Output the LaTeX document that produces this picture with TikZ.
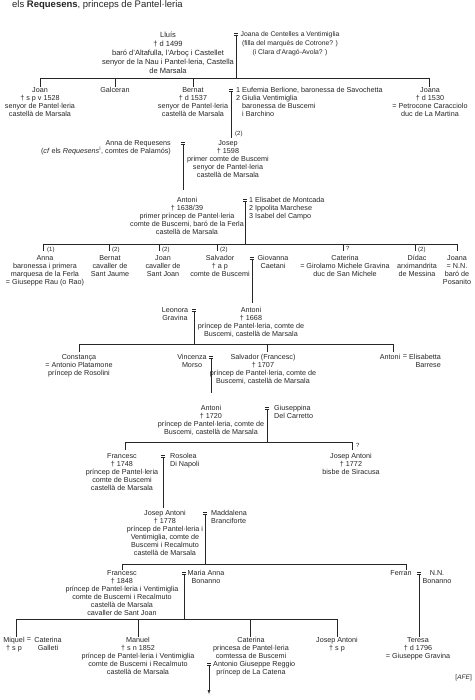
\documentclass[tikz,border=0pt]{standalone}
\usepackage{fontspec}
\setmainfont{Liberation Sans}
\usetikzlibrary{arrows.meta}
\definecolor{ink}{gray}{0.15}
\tikzset{
  lbl/.style={font=\fontsize{7.2}{8}\selectfont, text=ink, align=center, inner sep=0pt, anchor=north, yshift=2.7pt},
  lbll/.style={lbl, align=left, anchor=north west},
  lblr/.style={lbl, align=right, anchor=north east},
  tag/.style={lbl, anchor=north west, font=\fontsize{6}{7}\selectfont},
  ln/.style={line width=0.5pt, draw=ink},
}
\newcommand\marr[3]{%
  \coordinate (#1) at (#2,#3+1);
  \draw[ln] ([shift={(-2.2,-2)}]#1) -- ([shift={(2.2,-2)}]#1)
            ([shift={(-2.2,0)}]#1) -- ([shift={(2.2,0)}]#1);}
\begin{document}
\begin{tikzpicture}[x=1pt,y=-1pt]
\useasboundingbox[fill=white] (0,0) rectangle (474,700);

\node[lbl, anchor=west, yshift=0pt, font=\fontsize{9.5}{11}\selectfont] (title) at (12,8)
  {els \textbf{Requesens}, princeps de Pantel·leria};

% ---- generation 1
\node[lbl, font=\fontsize{7.5}{9}\selectfont] (lluis) at (168,34)
  {Lluís\\† d 1499\\baró d'Altafulla, l'Arboç i Castellet\\senyor de la Nau i Pantel·leria, Castella\\de Marsala};
\marr{m1}{236}{34}
\node[lbl, font=\fontsize{6.8}{9}\selectfont] (joanaC) at (290,34)
  {Joana de Centelles a Ventimiglia\\(filla del marquès de Cotrone? )\\(i Clara d'Aragó-Avola? )};
\coordinate (b1) at (236,78);
\coordinate (t11) at (40,78);
\coordinate (t12) at (115,78);
\coordinate (t13) at (193,78);
\coordinate (t14) at (429,78);
\draw[ln] (m1) -- (b1);
\draw[ln] (t11) -- (t14);

% ---- generation 2
\node[lbl] (joan1) at (40,90) {Joan\\† s p v 1528\\senyor de Pantel·leria\\castellà de Marsala};
\node[lbl] (galceran) at (115,90) {Galceran};
\node[lbl] (bernat1) at (193,90) {Bernat\\† d 1537\\senyor de Pantel·leria\\castellà de Marsala};
\node[lbl] (joana1) at (430,90) {Joana\\† d 1530\\= Petrocone Caracciolo\\duc de La Martina};
\draw[ln] (t11) -- (t11 |- joan1.north);
\draw[ln] (t12) -- (t12 |- galceran.north);
\draw[ln] (t13) -- (t13 |- bernat1.north);
\draw[ln] (t14) -- (t14 |- joana1.north);
\marr{m2}{231}{90}
\node[lbll] (eufemia) at (236,90)
  {1 Eufemia Berlione, baronessa de Savochetta\\2 Giulia Ventimiglia\\\phantom{2 }baronessa de Buscemi\\\phantom{2 }i Barchino};

% ---- generation 3
\node[lbl] (josep) at (228,143) {Josep\\† 1598\\primer comte de Buscemi\\senyor de Pantel·leria\\castellà de Marsala};
\coordinate (e2) at (231,138);
\draw[ln] (m2) -- (e2);
\node[tag] (l2) at (235,134) {(2)};
\node[lblr] (annaR) at (171,143)
  {Anna de Requesens\\(\textit{cf} els \textit{Requesens}\textsuperscript{I}, comtes de Palamós)};
\marr{m3}{183}{143}

% ---- generation 4
\node[lbl] (antoni1) at (187,200)
  {Antoni\\† 1638/39\\primer príncep de Pantel·leria\\comte de Buscemi, baró de la Ferla\\castellà de Marsala};
\coordinate (e3) at (183,190);
\draw[ln] (m3) -- (e3);
\marr{m4}{245}{200}
\node[lbll] (elisabet) at (249,200) {1 Elisabet de Montcada\\2 Ippolita Marchese\\3 Isabel del Campo};
\coordinate (b2) at (245,244);
\coordinate (t21) at (43,244);
\coordinate (t22) at (109,244);
\coordinate (t23) at (159,244);
\coordinate (t24) at (217,244);
\coordinate (t25) at (343,244);
\coordinate (t26) at (415,244);
\coordinate (t27) at (457,244);
\draw[ln] (m4) -- (b2);
\draw[ln] (t21) -- (t27);
\foreach \t in {t21,t22,t23,t24,t25,t26,t27} \draw[ln] (\t) -- ++(0,7);
\node[tag] (l21) at (47,249.5) {(1)};
\node[tag] (l22) at (112,249.5) {(2)};
\node[tag] (l23) at (162,249.5) {(2)};
\node[tag] (l24) at (220,249.5) {(2)};
\node[tag] (l25) at (346,249) {?};
\node[tag] (l26) at (418,249.5) {(2)};

% ---- generation 5
\node[lbl] (anna2) at (45,258) {Anna\\baronessa i primera\\marquesa de la Ferla\\= Giuseppe Rau (o Rao)};
\node[lbl] (bernat2) at (110,258) {Bernat\\cavaller de\\Sant Jaume};
\node[lbl] (joan2) at (163,258) {Joan\\cavaller de\\Sant Joan};
\node[lbl] (salvador1) at (220,258) {Salvador\\† a p\\comte de Buscemi};
\marr{m5}{252}{258}
\node[lbl] (giovanna) at (273,258) {Giovanna\\Caetani};
\node[lbl] (caterina1) at (345,258) {Caterina\\= Girolamo Michele Gravina\\duc de San Michele};
\node[lbl] (didac) at (417,258) {Dídac\\arximandrita\\de Messina};
\node[lbl] (joana2) at (457,258) {Joana\\= N.N.\\baró de\\Posanito};

% ---- generation 6
\node[lbl] (antoni2) at (251,310) {Antoni\\† 1668\\príncep de Pantel·leria, comte de\\Buscemi, castellà de Marsala};
\coordinate (e5) at (252,303);
\draw[ln] (m5) -- (e5);
\node[lbl] (leonora) at (175,310) {Leonora\\Gravina};
\marr{m6}{194}{310}
\coordinate (b3) at (194,344);
\coordinate (t31) at (79,344);
\coordinate (t32) at (267,344);
\coordinate (t33) at (393,344);
\draw[ln] (m6) -- (b3);
\draw[ln] (t31) -- (t33);
\foreach \t in {t31,t32,t33} \draw[ln] (\t) -- ++(0,8);

% ---- generation 7
\node[lbl] (constanca) at (79,357) {Constança\\= Antonio Platamone\\príncep de Rosolini};
\node[lbl] (vincenza) at (192,357) {Vincenza\\Morso};
\marr{m7}{211}{357}
\node[lbl] (salvador2) at (263,357) {Salvador (Francesc)\\† 1707\\príncep de Pantel·leria, comte de\\Buscemi, castellà de Marsala};
\node[lbl] (antoniE) at (390,357) {Antoni};
\node[lbl] (eqE) at (405,357) {=};
\node[lblr] (elisabetta) at (441,357) {Elisabetta\\Barrese};

% ---- generation 8
\node[lbl] (antoni3) at (211,408) {Antoni\\† 1720\\príncep de Pantel·leria, comte de\\Buscemi, castellà de Marsala};
\coordinate (e7) at (211,393);
\draw[ln] (m7) -- (e7);
\marr{m8}{267}{408}
\node[lbll] (giuseppina) at (274,408) {Giuseppina\\Del Carretto};
\coordinate (b4) at (267,442);
\coordinate (t41) at (125,442);
\coordinate (t42) at (352,442);
\draw[ln] (m8) -- (b4);
\draw[ln] (t41) -- (t42);
\foreach \t in {t41,t42} \draw[ln] (\t) -- ++(0,8);
\node[tag] (l41) at (356,446) {?};

% ---- generation 9
\node[lbl] (francesc1) at (122,456) {Francesc\\† 1748\\príncep de Pantel·leria\\comte de Buscemi\\castellà de Marsala};
\marr{m9}{163}{456}
\node[lbll] (rosolea) at (170,456) {Rosolea\\Di Napoli};
\node[lbl] (josepA1) at (351,456) {Josep Antoni\\† 1772\\bisbe de Siracusa};

% ---- generation 10
\node[lbl] (josepA2) at (165,513)
  {Josep Antoni\\† 1778\\príncep de Pantel·leria i\\Ventimiglia, comte de\\Buscemi i Recalmuto\\castellà de Marsala};
\coordinate (e9) at (163,508);
\draw[ln] (m9) -- (e9);
\marr{m10}{205}{513}
\node[lbll] (maddalena) at (211,513) {Maddalena\\Branciforte};
\coordinate (b5) at (205,564);
\coordinate (t51) at (122,564);
\coordinate (t52) at (406,564);
\draw[ln] (m10) -- (b5);
\draw[ln] (t51) -- (t52);
\foreach \t in {t51,t52} \draw[ln] (\t) -- ++(0,6);

% ---- generation 11
\node[lbl] (francesc2) at (122,573)
  {Francesc\\† 1848\\príncep de Pantel·leria i Ventimiglia\\comte de Buscemi i Recalmuto\\castellà de Marsala\\cavaller de Sant Joan};
\marr{m11}{184}{573}
\node[lbl] (mariaAnna) at (206,573) {Maria Anna\\Bonanno};
\node[lbl] (ferran) at (401,573) {Ferran};
\marr{m12}{419}{573}
\node[lbl] (nn) at (437,573) {N.N.\\Bonanno};
\coordinate (b6) at (184,619);
\coordinate (t61) at (16,619);
\coordinate (t62) at (138,619);
\coordinate (t63) at (250,619);
\coordinate (t64) at (337,619);
\draw[ln] (m11) -- (b6);
\draw[ln] (t61) -- (t64);

% ---- generation 12
\node[lbl] (miquel) at (14,640) {Miquel\\† s p};
\node[lbl] (eqM) at (29,640) {=};
\node[lbl] (caterinaG) at (48,640) {Caterina\\Galleti};
\node[lbl] (manuel) at (138,640)
  {Manuel\\† s n 1852\\príncep de Pantel·leria i Ventimiglia\\comte de Buscemi i Recalmuto\\castellà de Marsala};
\node[lbl] (caterina3) at (251,640) {Caterina\\princesa de Pantel·leria\\comtessa de Buscemi};
\marr{m14}{209}{664}
\node[lbll] (reggio) at (213,664) {Antonio Giuseppe Reggio};
\node[lbl] (catena) at (251,672) {príncep de La Catena};
\coordinate (arr) at (209,694);
\draw[ln, -{Latex[length=4pt,width=3pt]}] (m14) -- (arr);
\node[lbl] (josepA3) at (337,640) {Josep Antoni\\† s p};
\node[lbl] (teresa) at (418,640) {Teresa\\† d 1796\\= Giuseppe Gravina};
\draw[ln] (t61) -- (t61 |- miquel.north);
\draw[ln] (t62) -- (t62 |- manuel.north);
\draw[ln] (t63) -- (t63 |- caterina3.north);
\draw[ln] (t64) -- (t64 |- josepA3.north);
\draw[ln] (m12) -- (m12 |- teresa.north);

\node[lbl, anchor=east, yshift=0pt, font=\fontsize{6.5}{7}\selectfont] (afe) at (472,681) {[\textit{AFE}]};
\end{tikzpicture}
\end{document}
